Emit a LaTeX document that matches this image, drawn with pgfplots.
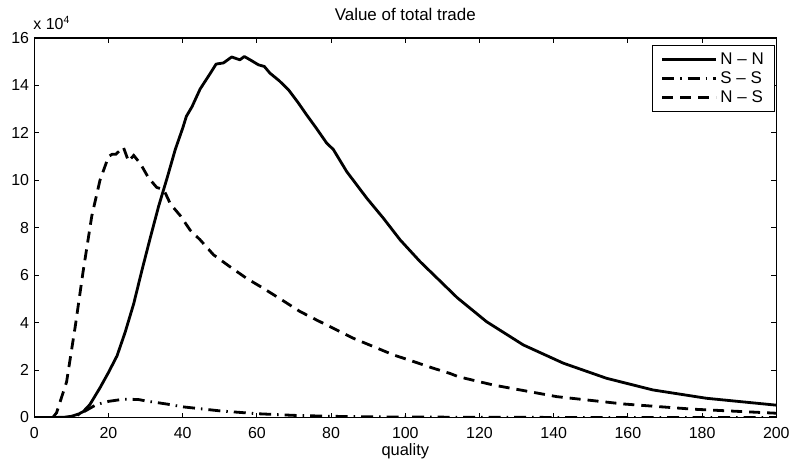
\documentclass[border=0pt]{standalone}
\usepackage{fontspec}
\setmainfont{Liberation Sans}
\usepackage{pgfplots}
\pgfplotsset{compat=1.18}
\begin{document}
\begin{tikzpicture}
\path[use as bounding box] (-34.3bp,-43.5bp) rectangle (757.7bp,417.5bp);
\begin{axis}[
 scale only axis, width=742bp, height=379.5bp,
 at={(0,0)}, anchor=south west,
 xmin=0, xmax=200, ymin=0, ymax=16,
 xtick={0,20,...,200}, ytick={0,2,...,16},
 tick pos=both, tick align=inside, major tick length=5bp,
 axis line style={line width=1.3bp},
 every tick/.style={black, line width=1bp},
 /pgf/number format/assume math mode=true,
 ticklabel style={font=\fontsize{16}{19}\selectfont},
 xticklabel style={anchor=base, inner sep=0pt, yshift=-21bp},
 yticklabel style={anchor=east, inner sep=0pt, xshift=-5bp},
 title={Value of total trade},
 title style={at={(0.5,1)}, anchor=base, inner sep=0pt, yshift=12bp, font=\fontsize{17}{20}\selectfont},
 xlabel={quality},
 xlabel style={at={(0.5,0)}, anchor=base, inner sep=0pt, yshift=-37.5bp, font=\fontsize{16.5}{19}\selectfont},
 legend image code/.code={\draw[#1] (0bp,0bp) -- (54bp,0bp);},
 legend cell align=left,
 legend style={at={(1,1)}, anchor=north east, xshift=-1bp, yshift=-7bp, draw=black, line width=1.1bp,
   font=\fontsize{17}{20}\selectfont, inner xsep=8bp, inner ysep=4bp, row sep=0bp,
   nodes={inner sep=3bp}},
 clip mode=individual,
]
\addplot[black, line width=2.8bp, line join=round] coordinates {
(0,0) (5,0) (8,0.01) (10,0.05) (12,0.15) (13.2,0.25) (15,0.55) (17.7,1.25) (20,1.9)
(22.3,2.6) (24.5,3.6) (26.8,4.8) (29,6.2) (31.3,7.6) (33.5,8.9) (35.8,10.1) (38,11.3)
(40,12.2) (41,12.7) (42.5,13.1) (44.7,13.85) (47.4,14.5) (49,14.9) (51,14.95) (53.2,15.2)
(55.4,15.08) (56.6,15.22) (58.5,15.05) (60.4,14.87) (62,14.8) (63.5,14.52) (66,14.2)
(68.5,13.82) (71,13.3) (73.4,12.76) (76,12.2) (78.8,11.57) (80.6,11.3) (84.2,10.37)
(89.6,9.25) (94.1,8.4) (98.6,7.49) (104,6.57) (109.4,5.75) (114,5.05) (121.9,4.04)
(131.8,3.06) (142.6,2.29) (154.3,1.65) (166.8,1.16) (181.2,0.81) (200,0.52)
};
\addlegendentry{N – N}
\addplot[black, line width=2.8bp, dash pattern=on 12bp off 6bp on 1.5bp off 6bp] coordinates {
(0,0) (9,0) (10,0.02) (12,0.12) (14,0.3) (16.8,0.55) (20,0.68) (24,0.77) (28,0.76)
(30,0.7) (33,0.63) (36,0.56) (40,0.45) (44.7,0.37) (50,0.28) (55,0.22) (60,0.16)
(70,0.09) (80,0.05) (90,0.03) (100,0.02) (120,0.01) (150,0) (200,0)
};
\addlegendentry{S – S}
\addplot[black, line width=2.8bp, dash pattern=on 11bp off 7bp] coordinates {
(0,0) (5,0) (6,0.2) (8.7,1.5) (11,3.8) (13.2,6.2) (15.5,8.5) (17.7,10.0) (20,11.0)
(21,11.1) (22,11.1) (24,11.4) (25.4,10.8) (26.8,11.05) (28.6,10.7) (30.8,10.1) (33,9.7)
(34.9,9.6) (36.7,9.0) (39.4,8.5) (42,7.9) (44.7,7.49) (48.3,6.86) (52.7,6.36) (57.2,5.87)
(61.7,5.45) (66.7,4.96) (71.6,4.47) (76.1,4.11) (81.5,3.69) (86,3.34) (91.4,2.99)
(96.8,2.64) (102.2,2.36) (107.5,2.08) (112,1.86) (114.3,1.72) (123.7,1.37) (140.8,0.88)
(158.8,0.57) (177.6,0.35) (200,0.18)
};
\addlegendentry{N – S}
\node[anchor=base west, inner sep=0pt, font=\fontsize{16}{19}\selectfont] at (rel axis cs:0,1) [xshift=-1bp, yshift=8bp] {x 10\raisebox{6.5bp}{\fontsize{10.5}{12}\selectfont 4}};
\end{axis}
\end{tikzpicture}
\end{document}
